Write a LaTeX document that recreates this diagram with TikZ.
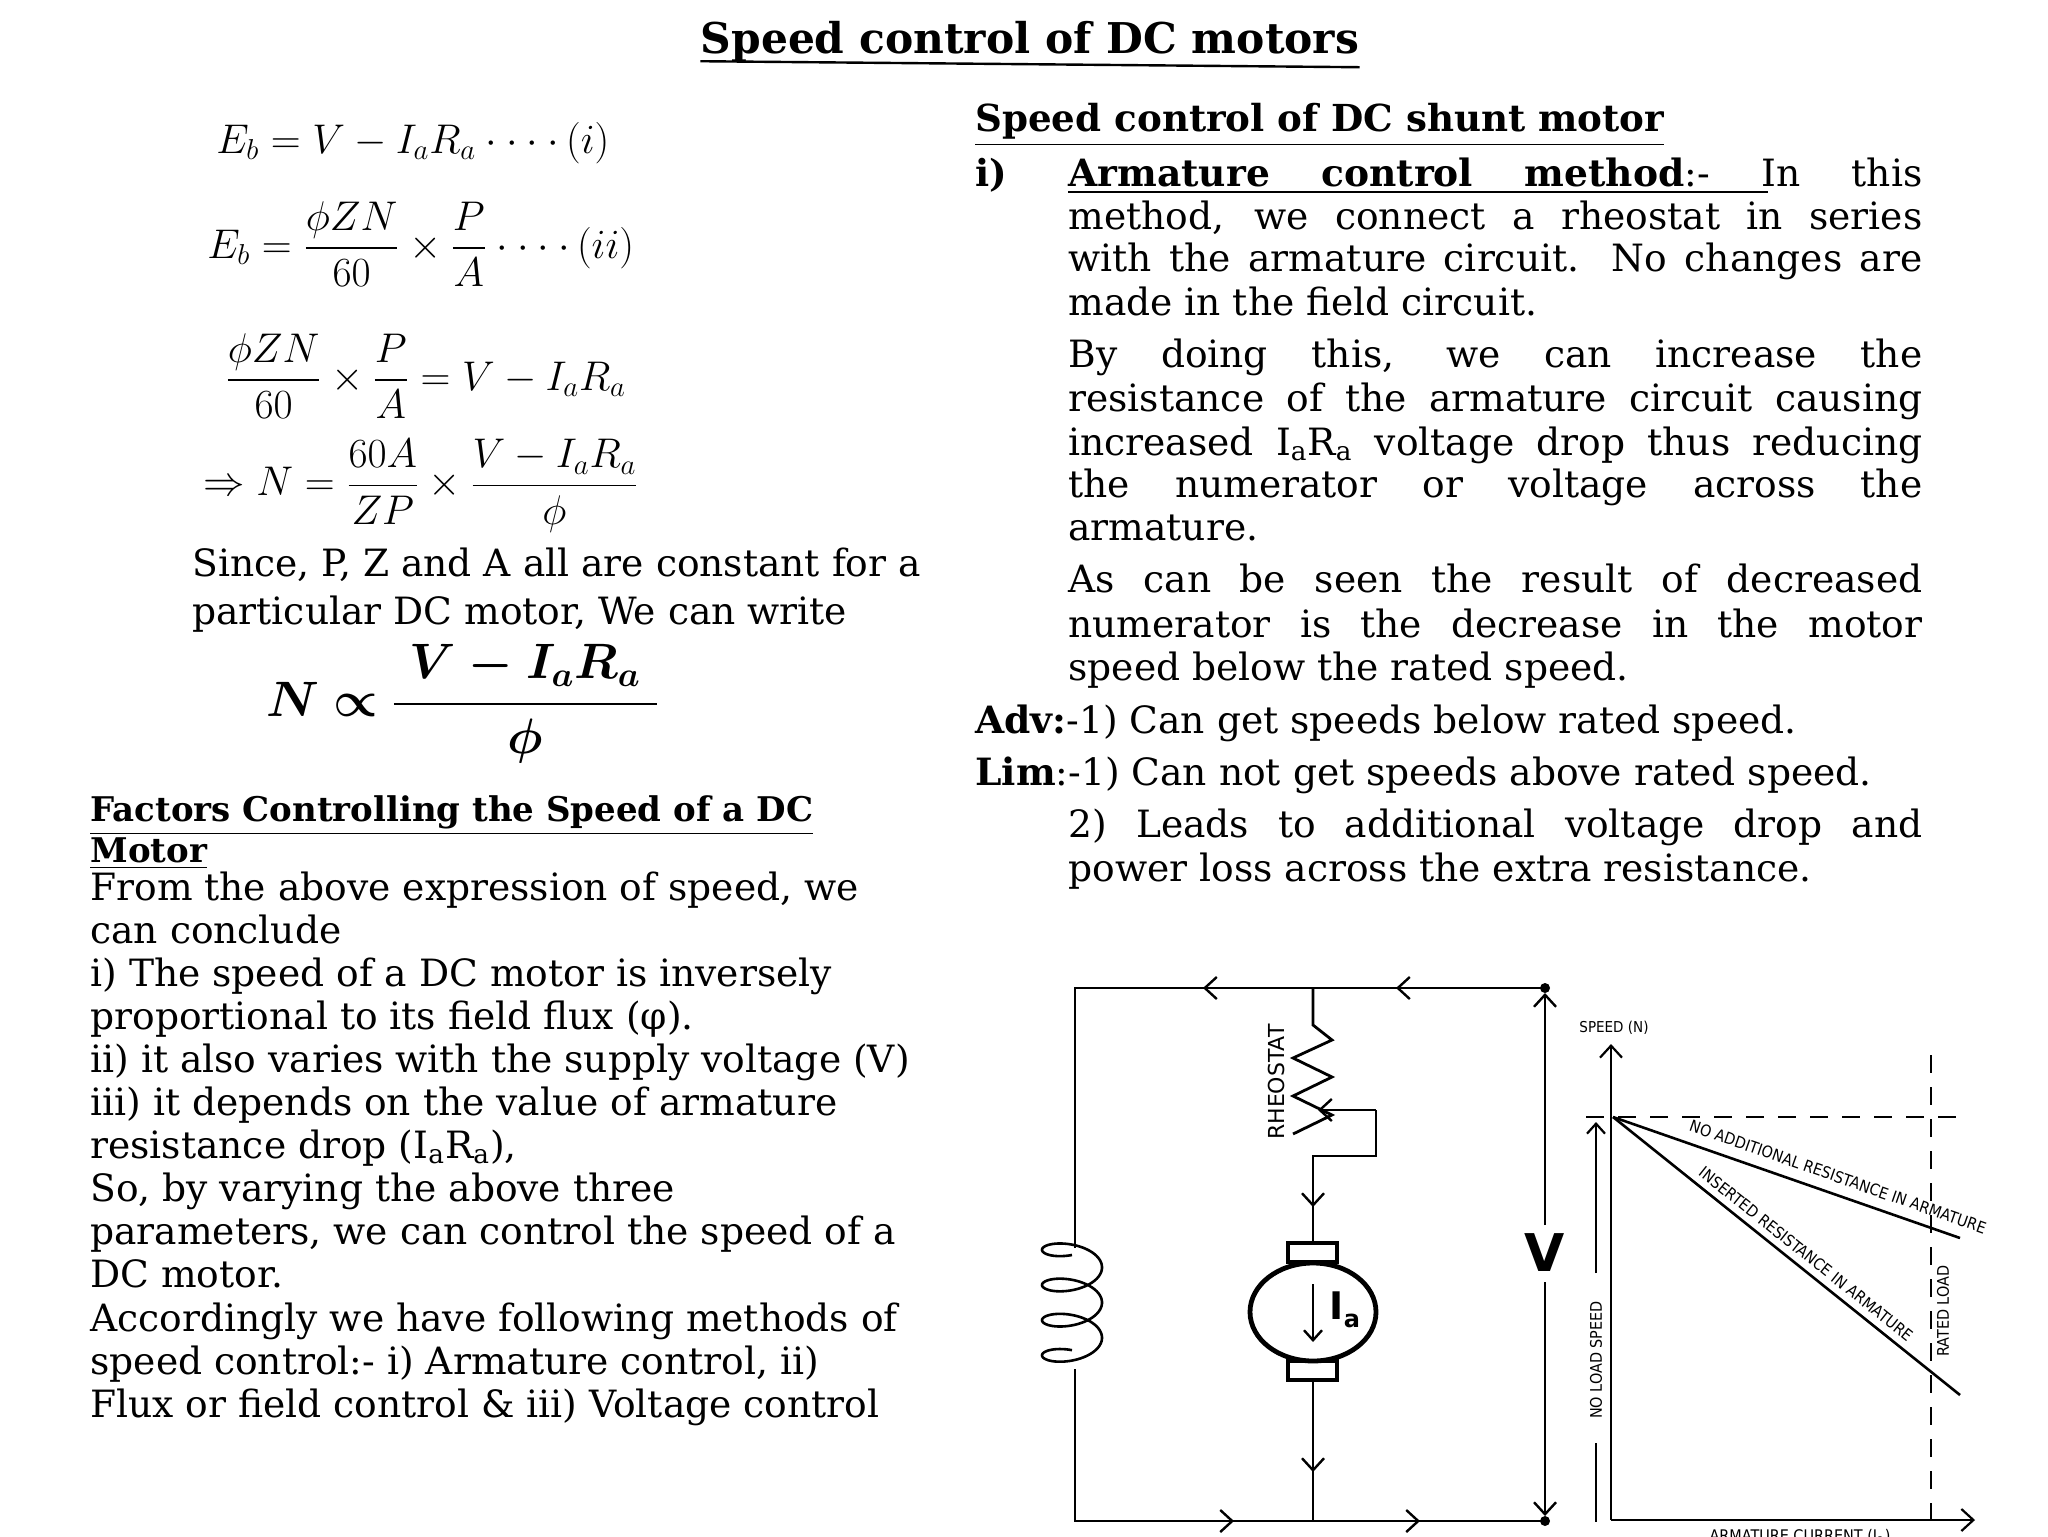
\documentclass[tikz,border=0pt]{standalone}
\usepackage{amsmath,bm}
\usepackage{fontspec}
\setmainfont{DejaVu Serif}
\setsansfont{DejaVu Sans}
\newfontfamily\cond{DejaVu Sans Condensed}
\usetikzlibrary{arrows.meta}
\newcommand{\jl}[1]{\makebox[427pt][s]{#1}}
\newcommand{\sub}[1]{\textsubscript{#1}}
\begin{document}
\begin{tikzpicture}[x=0.5pt,y=-0.5pt,
  txt/.style={anchor=base west,inner sep=0pt,font=\fontsize{18.8}{22}\selectfont},
  hd/.style={anchor=base west,inner sep=0pt,font=\fontsize{17}{20}\selectfont\bfseries},
  eq/.style={anchor=west,inner sep=0pt,font=\fontsize{21.5}{25}\selectfont},
  wire/.style={line width=1.4pt},
  chev/.style={line width=1.2pt,-{Straight Barb[length=6pt,width=11pt,line width=1.2pt]}},
  lab/.style={inner sep=0pt,font=\cond\fontsize{8}{9}\selectfont},
  dsh/.style={line width=1.3pt,dash pattern=on 9pt off 7pt}]
\useasboundingbox (0,0) rectangle (2048,1536);
\fill[white] (0,0) rectangle (2048,1536);
% title
\node[anchor=base,inner sep=0pt,font=\fontsize{21.2}{24}\selectfont\bfseries] (title) at (1030,54) {Speed control of DC motors};
\draw[line width=1.2pt] (title.south west)++(0,-2) -- ([yshift=-2pt]title.south east);
% equations
\node[eq] (e1) at (216,143) {$E_b = V - I_aR_a \cdot\cdot\cdot\cdot\, (i)$};
\node[eq] (e2) at (207,244) {$E_b = \dfrac{\phi Z N}{60}\times\dfrac{P}{A}\cdot\cdot\cdot\cdot\,(ii)$};
\node[eq] (e3) at (225,376) {$\dfrac{\phi Z N}{60}\times\dfrac{P}{A} = V - I_aR_a$};
\node[eq] (e4) at (203,486) {$\Rightarrow N = \dfrac{60A}{ZP}\times\dfrac{V - I_aR_a}{\phi}$};
\node[txt] (s1) at (192,576) {Since, P, Z and A all are constant for a};
\node[txt] (s2) at (192,624) {particular DC motor, We can write};
\node[eq,font=\fontsize{24}{28}\selectfont] (e5) at (266,704) {$\bm{N \propto \dfrac{\;V - I_aR_a\;}{\phi}}$};
% factors
\node[hd] (f1) at (90,821) {\underline{Factors Controlling the Speed of a DC}};
\node[hd] (f2) at (90,862) {\underline{Motor}};
\foreach \t [count=\i from 0] in {{From the above expression of speed, we},
 {can conclude},
 {i) The speed of a DC motor is inversely},
 {proportional to its field flux (φ).},
 {ii) it also varies with the supply voltage (V)},
 {iii) it depends on the value of armature},
 {resistance drop (I\sub{a}R\sub{a}),},
 {So, by varying the above three},
 {parameters, we can control the speed of a},
 {DC motor.},
 {Accordingly we have following methods of},
 {speed control:- i) Armature control, ii)},
 {Flux or field control \& iii) Voltage control}}
 {\node[txt] (p\i) at (90,{900+43.1*\i}) {\t};}
% right column
\node[hd,font=\fontsize{18.6}{22}\selectfont\bfseries] (h2) at (975,132) {\underline{Speed control of DC shunt motor}};
\node[hd,font=\fontsize{18.6}{22}\selectfont\bfseries] (ri) at (975,186) {i)};
\node[txt] (r1) at (1068,186) {\jl{\textbf{Armature} \textbf{control} \textbf{method}:- In this}};
\draw[line width=1.1pt] (1068,192) -- (1768,192);
\node[txt] (r2) at (1068,229) {\jl{method, we connect a rheostat in series}};
\node[txt] (r3) at (1068,271) {\jl{with the armature circuit. No changes are}};
\node[txt] (r4) at (1068,315) {made in the field circuit.};
\node[txt] (r5) at (1068,367) {\jl{By doing this, we can increase the}};
\node[txt] (r6) at (1068,411) {\jl{resistance of the armature circuit causing}};
\node[txt] (r7) at (1068,455) {\jl{increased I\sub{a}R\sub{a} voltage drop thus reducing}};
\node[txt] (r8) at (1068,497) {\jl{the numerator or voltage across the}};
\node[txt] (r9) at (1068,540) {armature.};
\node[txt] (r10) at (1068,592) {\jl{As can be seen the result of decreased}};
\node[txt] (r11) at (1068,637) {\jl{numerator is the decrease in the motor}};
\node[txt] (r12) at (1068,680) {speed below the rated speed.};
\node[txt] (adv) at (975,733) {\textbf{Adv:}-1) Can get speeds below rated speed.};
\node[txt] (lim) at (975,785) {\textbf{Lim}:-1) Can not get speeds above rated speed.};
\node[txt] (r13) at (1068,837) {\jl{2) Leads to additional voltage drop and}};
\node[txt] (r14) at (1068,881) {power loss across the extra resistance.};
% circuit
\coordinate (tl) at (1075,988); \coordinate (tr) at (1545,988);
\coordinate (bl) at (1075,1521); \coordinate (br) at (1545,1521);
\coordinate (jt) at (1313,988); \coordinate (jb) at (1313,1521);
\draw[wire] (tr) -- (tl) -- (1075,1248);
\draw[wire] (1075,1369) -- (bl) -- (br);
\draw[line width=1.3pt,domain=-90:1170,samples=200,variable=\t]
  plot ({1072-30*cos(\t)},{1248-7+5.6*(\t+90)/57.3-14*sin(\t)});
\fill (tr) circle (5); \fill (br) circle (5);
\draw[chev] (1225,988) -- (1203,988);
\draw[chev] (1418,988) -- (1396,988);
\draw[chev] (1210,1521) -- (1234,1521);
\draw[chev] (1396,1521) -- (1420,1521);
% rheostat
\draw[wire] (jt) -- (1313,1025) -- (1332,1040) -- (1293,1058) -- (1332,1077) -- (1293,1096) -- (1332,1115) -- (1293,1134);
\draw[wire] (1376,1110) -- (1376,1156) -- (1313,1156) -- (1313,1243);
\draw[chev] (1376,1110) -- (1318,1110);
\draw[chev] (1313,1185) -- (1313,1207);
\node[rotate=90,inner sep=0pt,font=\sffamily\fontsize{11}{12}\selectfont] (rh) at (1276,1082) {RHEOSTAT};
% motor
\draw[line width=2pt] (1288,1243) rectangle (1337,1262);
\draw[line width=2pt] (1288,1361) rectangle (1337,1380);
\draw[line width=2.4pt,fill=white] (1313,1312) ellipse (63 and 49);
\draw[line width=1.4pt,-{Straight Barb[length=5pt,width=9pt,line width=1.2pt]}] (1313,1284) -- (1313,1342);
\node[inner sep=0pt,font=\sffamily\bfseries\fontsize{19}{22}\selectfont] (ia) at (1345,1310) {I\raisebox{-4pt}{\fontsize{12}{13}\selectfont a}};
\draw[wire] (1313,1380) -- (jb);
\draw[chev] (1313,1450) -- (1313,1472);
% V
\node[inner sep=0pt,font=\sffamily\bfseries\fontsize{26}{30}\selectfont] (vv) at (1545,1253) {V};
\draw[wire,-{Straight Barb[length=6pt,width=11pt,line width=1.2pt]}] (1545,1225) -- (1545,993);
\draw[wire,-{Straight Barb[length=6pt,width=11pt,line width=1.2pt]}] (1545,1282) -- (1545,1516);
% graph
\coordinate (o) at (1611,1520);
\draw[line width=1.2pt,-{Straight Barb[length=6pt,width=11pt,line width=1.1pt]}] (o) -- (1611,1044);
\draw[line width=1.2pt,-{Straight Barb[length=6pt,width=11pt,line width=1.1pt]}] (o) -- (1975,1520);
\node[lab,font=\cond\fontsize{7.5}{9}\selectfont] (sp) at (1614,1028) {SPEED (N)};
\draw[dsh] (1586,1117) -- (1965,1117);
\draw[dsh] (1931,1055) -- (1931,1520);
\draw[line width=1.3pt] (1613,1117) -- (1960,1238);
\draw[line width=1.3pt] (1613,1117) -- (1960,1395);
\node[lab,rotate=-19.3] (l1) at (1838,1177) {NO ADDITIONAL RESISTANCE IN ARMATURE};
\node[lab,rotate=-38.6] (l2) at (1806,1254) {INSERTED RESISTANCE IN ARMATURE};
\draw[line width=1.1pt,-{Straight Barb[length=5pt,width=9pt,line width=1.1pt]}] (1596,1273) -- (1596,1122);
\draw[line width=1.1pt] (1596,1443) -- (1596,1522);
\node[lab,rotate=90] (nls) at (1596,1360) {NO LOAD SPEED};
\node[lab,rotate=90,fill=white,inner sep=2pt] (rl) at (1943,1311) {RATED LOAD};
\node[lab,anchor=north] (ac) at (1800,1529) {ARMATURE CURRENT (I\sub{a})};
\end{tikzpicture}
\end{document}
